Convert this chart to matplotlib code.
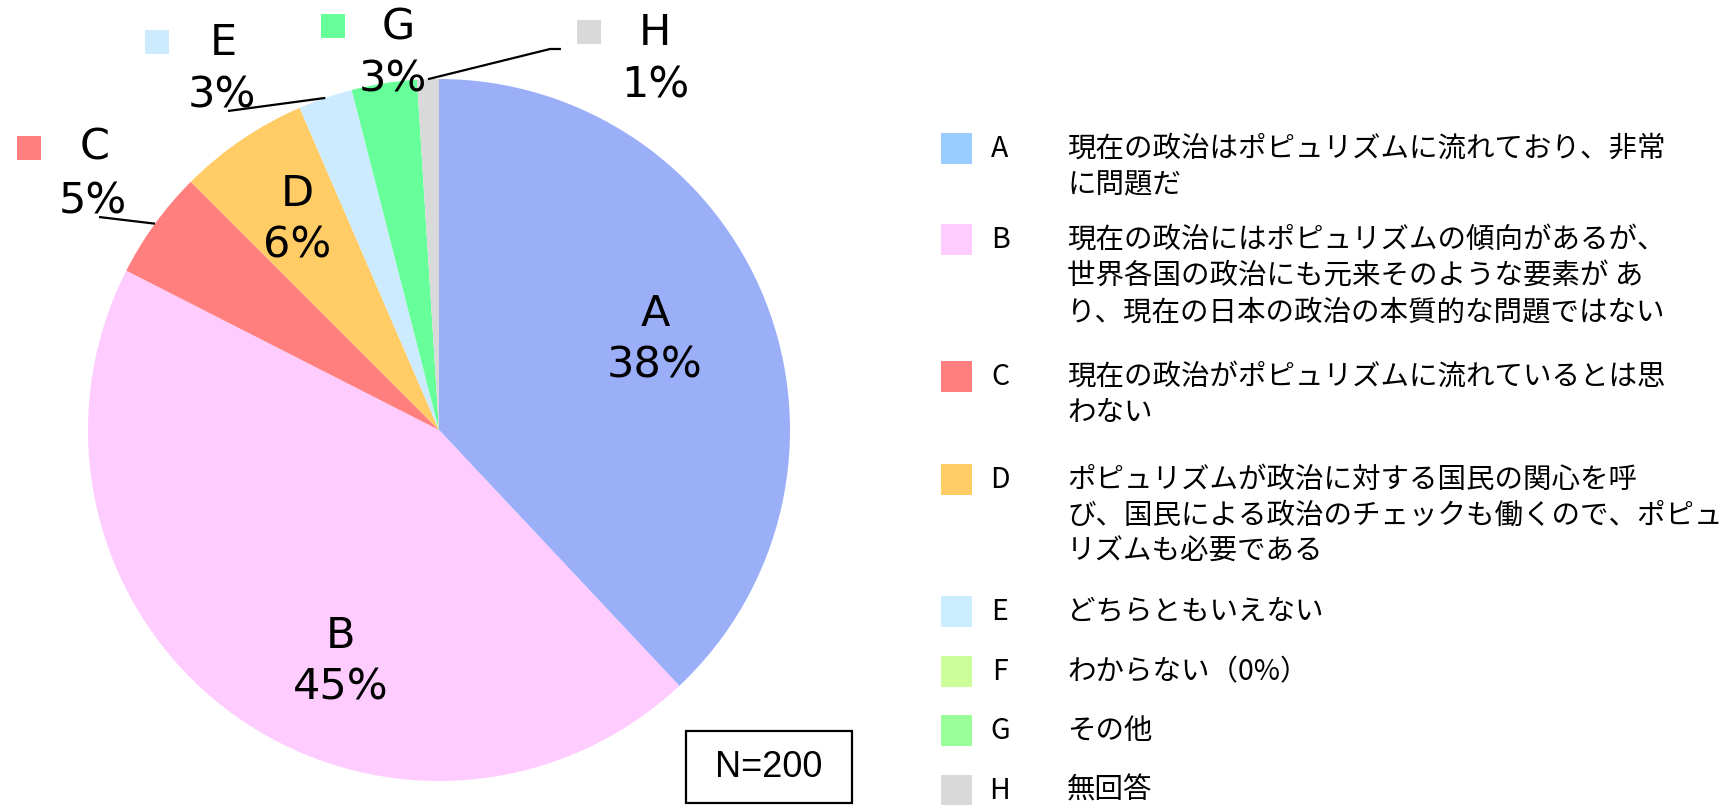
import matplotlib
matplotlib.use("Agg")
import matplotlib.pyplot as plt
from matplotlib.patches import Rectangle
import numpy as np

# ---------------- data ----------------
categories = ["A", "B", "C", "D", "E", "F", "G", "H"]
counts = [76, 89, 10, 12, 5, 0, 6, 2]          # N = 200
pct_labels = ["38%", "45%", "5%", "6%", "3%", "0%", "3%", "1%"]
descriptions = [
    "現在の政治はポピュリズムに流れており、非常\nに問題だ",
    "現在の政治にはポピュリズムの傾向があるが、\n世界各国の政治にも元来そのような要素が あ\nり、現在の日本の政治の本質的な問題ではない",
    "現在の政治がポピュリズムに流れているとは思\nわない",
    "ポピュリズムが政治に対する国民の関心を呼\nび、国民による政治のチェックも働くので、ポピュ\nリズムも必要である",
    "どちらともいえない",
    "わからない（0%）",
    "その他",
    "無回答",
]
pie_colors = ["#9BAFF9", "#FFCCFF", "#FF7F7F", "#FFCC66", "#CCEBFF", "#CCFF99", "#66FF99", "#D9D9D9"]
legend_colors = ["#99CCFF", "#FFCCFF", "#FF7F7F", "#FFCC66", "#CCECFF", "#CCFF99", "#99FF99", "#D9D9D9"]
n_text = "N=200"

# ---------------- layout ----------------
W, H = 1725, 805
fig = plt.figure(figsize=(W / 100, H / 100), dpi=100)
ax = fig.add_axes([0, 0, 1, 1])

def Y(y):
    return H - y

CX, CY, R = 439, 430, 351
wedges, _ = ax.pie(counts, colors=pie_colors, startangle=90, counterclock=False,
                   center=(CX, Y(CY)), radius=R, wedgeprops=dict(linewidth=0))
ax.set_xlim(0, W)
ax.set_ylim(0, H)
ax.set_aspect("equal")
ax.axis("off")

def edge_point(i):
    w = wedges[i]
    th = np.deg2rad((w.theta1 + w.theta2) / 2)
    return CX + R * np.cos(th), Y(CY) + R * np.sin(th)

LBL_FONT = dict(family="DejaVu Sans", fontsize=31, color="black", ha="center", va="center")
GAP = 26

# inside labels
inside = {0: (655, 340), 1: (341, 662), 3: (297, 220)}
for i, (x, y) in inside.items():
    ax.text(x, Y(y - GAP), categories[i], **LBL_FONT)
    ax.text(x, Y(y + GAP), pct_labels[i], **LBL_FONT)

# outside labels with legend keys
outside = {2: ((17, 136), (95, 148), (93, 202)),
           4: ((145, 30), (223, 43), (222, 95)),
           6: ((321, 14), (398, 28), (393, 80)),
           7: ((577, 20), (655, 33), (655, 85))}
for i, (sq, nm, pc) in outside.items():
    ax.add_patch(Rectangle((sq[0], Y(sq[1] + 24)), 24, 24, facecolor=pie_colors[i], edgecolor="none"))
    ax.text(nm[0], Y(nm[1]), categories[i], **LBL_FONT)
    ax.text(pc[0], Y(pc[1]), pct_labels[i], **LBL_FONT)

# leader lines
leaders = {2: [(99, 217)], 4: [(228, 111)], 7: [(561, 49), (550, 49)]}
for i, pts in leaders.items():
    ex, ey = edge_point(i)
    xs = [p[0] for p in pts] + [ex]
    ys = [Y(p[1]) for p in pts] + [ey]
    ax.plot(xs, ys, color="black", lw=1.6, solid_capstyle="butt")

# legend
LEG_FONT = dict(family=["Noto Sans CJK JP", "DejaVu Sans"], fontsize=20.5, color="black", va="center")
row_y = [149, 240, 377, 480, 612, 672, 731, 791]
LINE = 36
for i, cat in enumerate(categories):
    y = row_y[i]
    ax.add_patch(Rectangle((941, Y(y + 15)), 31, 31, facecolor=legend_colors[i], edgecolor="none"))
    ax.text(1000, Y(y), cat, ha="center", **LEG_FONT)
    for k, line in enumerate(descriptions[i].split("\n")):
        ax.text(1067, Y(y + k * LINE), line, ha="left", **LEG_FONT)

# N box
ax.add_patch(Rectangle((686, Y(803)), 166, 72, facecolor="none", edgecolor="black", lw=1.6))
ax.text(769, Y(767), n_text, family="Liberation Sans", fontsize=26, ha="center", va="center")

fig.savefig("out.png", dpi=100)
